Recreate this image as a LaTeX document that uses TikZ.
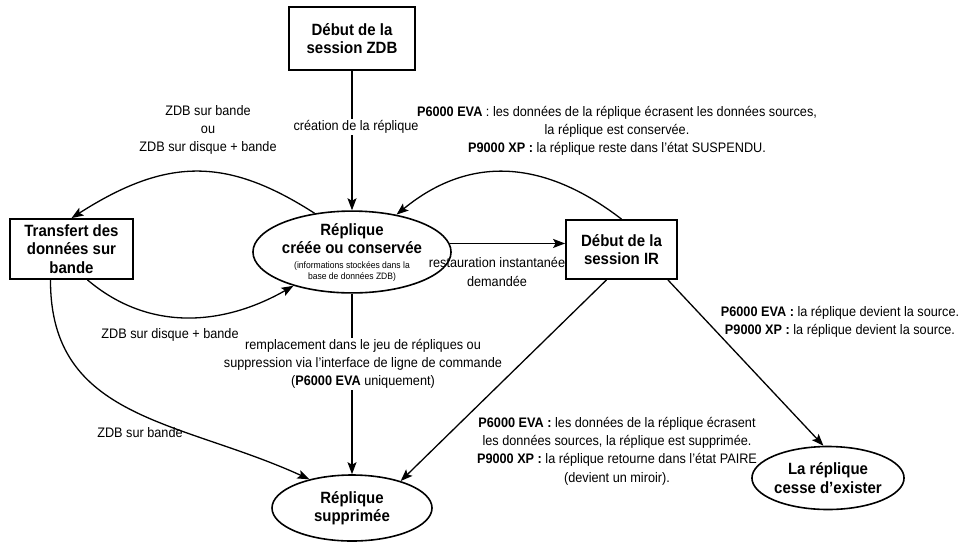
\documentclass[tikz,border=0pt]{standalone}
\usepackage{fontspec}
\setmainfont{Liberation Sans}[FakeStretch=0.92]
\usetikzlibrary{arrows.meta,shapes.geometric,calc}
\newcommand{\ttlf}{\bfseries\fontsize{16.3}{18.5}\selectfont}
\newcommand{\lblf}{\fontsize{13.8}{18.3}\selectfont}
\newcommand{\smlf}{\mdseries\fontsize{9.3}{10.8}\selectfont}
\begin{document}
\begin{tikzpicture}[x=1pt,y=-1pt,
  boxnode/.style={draw, line width=1.8pt, align=center, font=\ttlf, inner sep=2pt},
  ovalnode/.style={ellipse, draw, line width=1.6pt, align=center, font=\ttlf, inner sep=0pt},
  lbl/.style={align=center, font=\lblf, inner sep=1pt},
  arr/.style={line width=1.3pt, -{Stealth[length=12pt,width=9pt,inset=2.5pt]}}]
\useasboundingbox (0,0) rectangle (968,542);

% nodes
\node[boxnode, minimum width=126pt, minimum height=63pt] (zdb) at (352,38.5) {Début de la\\session ZDB};
\node[boxnode, minimum width=123pt, minimum height=60pt] (tran) at (71.5,249) {Transfert des\\données sur\\bande};
\node[boxnode, minimum width=111pt, minimum height=59pt] (ir) at (621.5,249.5) {Début de la\\session IR};
\node[ovalnode, minimum width=160pt, minimum height=66pt] (rep) at (352,252)
  {Réplique\\créée ou conservée\\[-4pt]\smlf (informations stockées dans la\\[-7.5pt]\smlf base de données ZDB)};
\node[ovalnode, minimum width=160pt, minimum height=66pt] (sup) at (352,508) {Réplique\\supprimée};
\node[ovalnode, minimum width=143pt, minimum height=63pt] (cesse) at (828,478) {La réplique\\cesse d’exister};

% connectors
\draw[arr] (zdb) -- (rep);
\node[lbl, fill=white] (lz) at (356,127) {création de la réplique};

\draw[arr] (rep.134) .. controls (227,157) and (167,157) .. (tran.north);
\node[lbl] (lt) at (208,130) {ZDB sur bande\\ou\\ZDB sur disque + bande};

\draw[arr] ($(tran.south)+(16,0)$) .. controls (150,333) and (225,325) .. (rep.210);
\node[lbl] (ld) at (170,335) {ZDB sur disque + bande};

\draw[arr] ($(tran.south)+(-21,0)$) .. controls (50,420) and (180,420) .. (sup.146);
\node[lbl] (lb) at (140,433) {ZDB sur bande};

\draw[arr] (rep) -- (sup);
\node[lbl, fill=white] (lr) at (363,364) {remplacement dans le jeu de répliques ou\\suppression via l’interface de ligne de commande\\(\textbf{P6000 EVA} uniquement)};

\draw[arr] (rep.5) -- (rep.5 -| ir.west);
\node[lbl] (li) at (497,272) {restauration instantanée\\demandée};

\draw[arr] (ir.north) .. controls (542,158) and (468,156) .. (rep.40);
\node[lbl] (ltop) at (617,131) {\textbf{P6000 EVA} : les données de la réplique écrasent les données sources,\\la réplique est conservée.\\\textbf{P9000 XP :} la réplique reste dans l’état SUSPENDU.};

\draw[arr] ($(ir.south)+(-15,0)$) -- (sup.29);
\node[lbl] (ls) at (617,451) {\textbf{P6000 EVA :} les données de la réplique écrasent\\les données sources, la réplique est supprimée.\\\textbf{P9000 XP :} la réplique retourne dans l’état PAIRE\\(devient un miroir).};

\draw[arr] ($(ir.south east)+(-10,0)$) -- (cesse.98);
\node[lbl] (lc) at (840,322) {\textbf{P6000 EVA :} la réplique devient la source.\\\textbf{P9000 XP :} la réplique devient la source.};
\end{tikzpicture}
\end{document}
